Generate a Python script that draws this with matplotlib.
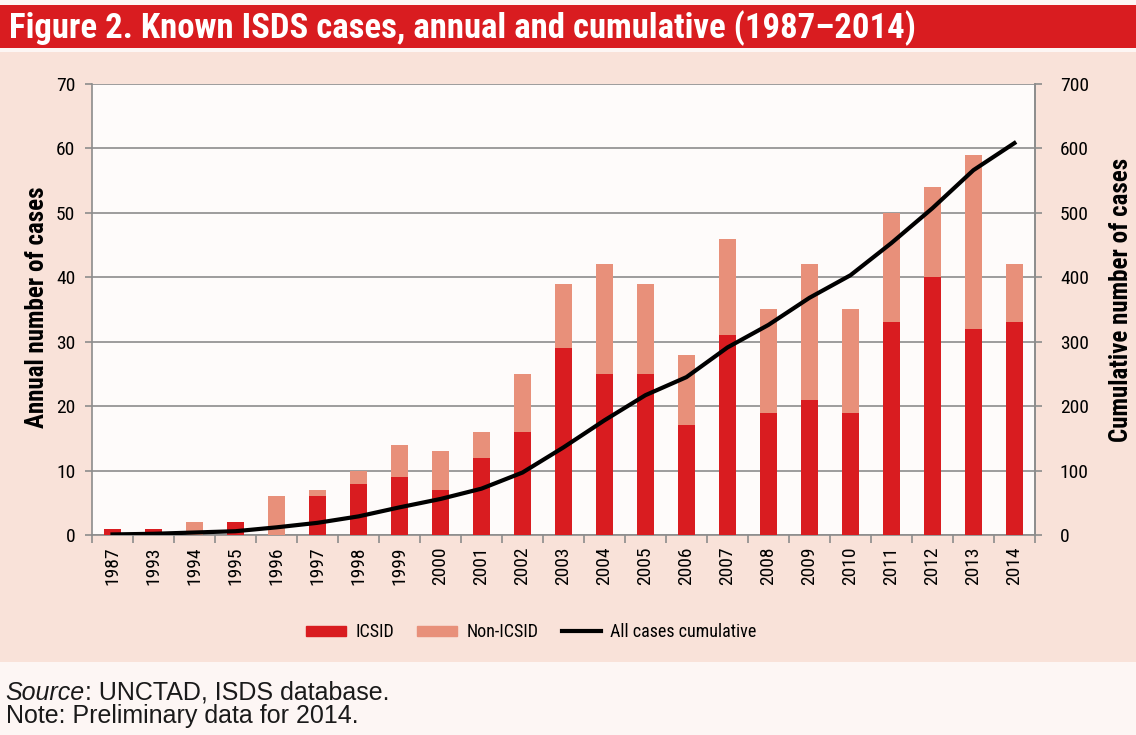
import numpy as np
import matplotlib.pyplot as plt
from matplotlib.patches import Rectangle
from matplotlib.lines import Line2D

# Data
years = ['1987', '1993', '1994', '1995', '1996', '1997', '1998', '1999', '2000',
         '2001', '2002', '2003', '2004', '2005', '2006', '2007', '2008', '2009',
         '2010', '2011', '2012', '2013', '2014']
icsid = [1, 1, 0, 2, 0, 6, 8, 9, 7, 12, 16, 29, 25, 25, 17, 31, 19, 21, 19, 33, 40, 32, 33]
non_icsid = [0, 0, 2, 0, 6, 1, 2, 5, 6, 4, 9, 10, 17, 14, 11, 15, 16, 21, 16, 17, 14, 27, 9]
cumulative = [1, 2, 4, 6, 12, 19, 29, 43, 56, 72, 97, 136, 178, 217, 245, 291, 326,
              368, 403, 453, 507, 566, 608]

red = '#d91c20'
salmon = '#e8907a'
pink = '#f9e2d9'
grid = '#8c8c8c'
narrow = ['Roboto Condensed', 'Asap Condensed', 'DejaVu Sans']

fig = plt.figure(figsize=(11.36, 7.35), dpi=100)
fig.patch.set_facecolor('#fdf6f4')

# title bar and pink panel
fig.patches.append(Rectangle((0, 0.935), 1, 0.058, transform=fig.transFigure,
                             facecolor=red, edgecolor='none', zorder=-2))
fig.patches.append(Rectangle((0, 0.099), 1, 0.830, transform=fig.transFigure,
                             facecolor=pink, edgecolor='none', zorder=-2))
fig.text(0.008, 0.962, 'Figure 2. Known ISDS cases, annual and cumulative (1987\u20132014)',
         color='white', fontsize=25, fontweight='bold', family=narrow, va='center')

ax = fig.add_axes([0.081, 0.272, 0.830, 0.614])
ax.set_facecolor('#fefbfa')
x = np.arange(len(years))
ax.bar(x, icsid, width=0.4, color=red, zorder=3)
ax.bar(x, non_icsid, width=0.4, bottom=icsid, color=salmon, zorder=3)
ax.set_xlim(-0.5, len(years) - 0.5)
ax.set_ylim(0, 70)
ax.set_yticks(range(0, 71, 10))
ax.yaxis.grid(True, color=grid, linewidth=1.2, zorder=0)
ax.set_xticks(x)
ax.set_xticklabels(years, rotation=90, family=narrow, fontsize=14)
ax.set_xticks(np.arange(-0.5, len(years), 1), minor=True)
ax.tick_params(axis='x', which='major', length=0, pad=8)
ax.tick_params(axis='x', which='minor', length=6, color=grid, width=1.2)
ax.tick_params(axis='y', length=5, color=grid, width=1.2, labelsize=14, pad=7)
for lab in ax.get_yticklabels():
    lab.set_family(narrow)
ax.spines['top'].set_visible(False)
for s in ['left', 'right', 'bottom']:
    ax.spines[s].set_color(grid)
    ax.spines[s].set_linewidth(1.2)
ax.set_ylabel('Annual number of cases', fontsize=18, fontweight='bold', family=narrow)
ax.yaxis.set_label_coords(-0.046, 0.505)

ax2 = ax.twinx()
ax2.plot(x, cumulative, color='black', linewidth=3, zorder=5)
ax2.set_ylim(0, 700)
ax2.set_yticks(range(0, 701, 100))
ax2.tick_params(axis='y', length=5, color=grid, width=1.2, labelsize=14, pad=13)
for lab in ax2.get_yticklabels():
    lab.set_family(narrow)
for s in ['top', 'left', 'bottom']:
    ax2.spines[s].set_visible(False)
ax2.spines['right'].set_color(grid)
ax2.spines['right'].set_linewidth(1.2)
ax2.set_ylabel('Cumulative number of cases', fontsize=18, fontweight='bold', family=narrow)
ax2.yaxis.set_label_coords(1.079, 0.52)

handles = [Rectangle((0, 0), 1, 1, color=red),
           Rectangle((0, 0), 1, 1, color=salmon),
           Line2D([0], [0], color='black', linewidth=3)]
fig.legend(handles, ['ICSID', 'Non-ICSID', 'All cases cumulative'], loc='center',
           bbox_to_anchor=(0.468, 0.140), ncol=3, frameon=False,
           prop={'family': narrow, 'size': 13}, handlelength=2.2, handleheight=0.5,
           handletextpad=0.5, columnspacing=1.3)

t1 = fig.text(0.005, 0.048, 'Source', fontsize=18, style='italic', family='Liberation Sans',
              va='baseline', color='#1a1a1a')
fig.text(0.005, 0.016, 'Note: Preliminary data for 2014.', fontsize=18, family='Liberation Sans',
         va='baseline', color='#1a1a1a')
fig.texts.append(plt.Annotation(': UNCTAD, ISDS database.', xy=(1, 0), xycoords=t1,
                                fontsize=18, family='Liberation Sans', va='bottom',
                                color='#1a1a1a'))
fig.texts[-1].set_figure(fig)

fig.savefig('out.png', dpi=100, facecolor=fig.get_facecolor())
